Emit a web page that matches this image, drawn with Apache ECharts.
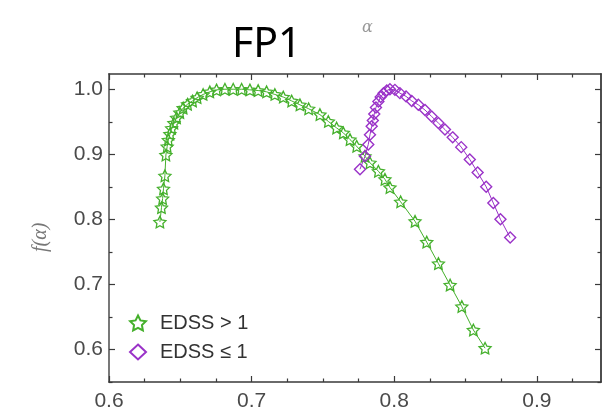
<!DOCTYPE html>
<html>
<head>
<meta charset="utf-8">
<script src="https://cdn.jsdelivr.net/npm/echarts@6/dist/echarts.min.js"></script>
<style>
html,body{margin:0;padding:0;background:#fff;}
#chart{width:607px;height:412px;}
</style>
</head>
<body>
<div id="chart"></div>
<script>
// ---- data ----
var seriesNames = ['EDSS > 1', 'EDSS \u2264 1'];
var edssHigh = [
  [0.6357,0.796],[0.6368,0.818],[0.6376,0.832],[0.6382,0.847],[0.6392,0.867],
  [0.6399,0.899],[0.6408,0.912],[0.6416,0.922],[0.6427,0.931],[0.6439,0.940],
  [0.6455,0.948],[0.6474,0.956],[0.6497,0.964],[0.6520,0.971],[0.6551,0.977],
  [0.6586,0.982],[0.6618,0.987],[0.6660,0.992],[0.6707,0.996],[0.6754,0.999],
  [0.6813,1.000],[0.6871,1.000],[0.6930,1.000],[0.6988,0.999],[0.7046,0.998],
  [0.7105,0.996],[0.7163,0.992],[0.7222,0.988],[0.7281,0.982],[0.7339,0.976],
  [0.7400,0.970],[0.7479,0.961],[0.7538,0.9505],[0.7596,0.9405],[0.7643,0.933],
  [0.7690,0.9226],[0.7737,0.9124],[0.7795,0.897],[0.7830,0.887],[0.7889,0.874],
  [0.7935,0.8615],[0.7970,0.849],[0.8045,0.827],[0.8146,0.797],[0.8228,0.765],
  [0.8310,0.732],[0.8392,0.699],[0.8474,0.666],[0.8555,0.630],[0.8637,0.602]
];
var edssLow = [
  [0.7760,0.877],[0.7795,0.897],[0.7818,0.915],[0.7830,0.930],[0.7842,0.943],
  [0.7850,0.952],[0.7860,0.962],[0.7872,0.972],[0.7889,0.981],[0.7905,0.988],
  [0.7925,0.994],[0.7948,0.998],[0.7970,1.000],[0.8005,0.999],[0.8040,0.994],
  [0.8083,0.989],[0.8123,0.982],[0.8169,0.976],[0.8216,0.968],[0.8263,0.958],
  [0.8310,0.948],[0.8356,0.938],[0.8410,0.926],[0.8470,0.911],[0.8530,0.892],
  [0.8585,0.872],[0.8645,0.850],[0.8695,0.825],[0.8745,0.800],[0.8813,0.772]
];
var xMajorTicks = [0.6, 0.7, 0.8, 0.9];
var xMinorTicks = [0.625, 0.65, 0.675, 0.725, 0.75, 0.775, 0.825, 0.85, 0.875, 0.925];
var yMajorTicks = [0.6, 0.7, 0.8, 0.9, 1.0];
var yMinorTicks = [0.55, 0.65, 0.75, 0.85, 0.95];
var xRange = [0.6, 0.945];
var yRange = [0.55, 1.0234];
var titleText = 'FP1';
var xAxisTitle = '\u03b1';
var yAxisTitle = 'f(\u03b1)';

// ---- styling ----
var green = '#45b02c';
var purple = '#9a32c8';
var starPath = 'path://M50,0 L79.4,59.5 L145.1,69.1 L97.6,115.5 L108.8,180.9 L50,150 L-8.8,180.9 L2.4,115.5 L-45.1,69.1 L20.6,59.5 Z';
var frameColor = '#3a3a3a';

function xAx(pos, ticks, len, showLine, showLabel) {
  return {
    type: 'value', position: pos, min: xRange[0], max: xRange[1], gridIndex: 0,
    axisLine: {show: showLine, onZero: false, lineStyle: {color: frameColor, width: 1.5}},
    axisTick: {show: true, inside: true, length: len, customValues: ticks, lineStyle: {color: frameColor, width: 1.2}},
    axisLabel: {show: showLabel, customValues: ticks, margin: 9, color: '#4a4a4a', fontSize: 21,
      fontFamily: 'Liberation Sans', formatter: function (v) { return v.toFixed(1); }},
    splitLine: {show: false}
  };
}
function yAx(pos, ticks, len, showLine, showLabel, lineColor) {
  return {
    type: 'value', position: pos, min: yRange[0], max: yRange[1], gridIndex: 0,
    axisLine: {show: showLine, onZero: false, lineStyle: {color: lineColor || frameColor, width: 1.8}},
    axisTick: {show: true, inside: true, length: len, customValues: ticks, lineStyle: {color: frameColor, width: 1.2}},
    axisLabel: {show: showLabel, customValues: ticks, margin: 6, color: '#4a4a4a', fontSize: 21,
      fontFamily: 'Liberation Sans', formatter: function (v) { return v.toFixed(1); }},
    splitLine: {show: false}
  };
}

var chart = echarts.init(document.getElementById('chart'), null, {renderer: 'canvas'});
chart.setOption({
  backgroundColor: '#fff',
  animation: false,
  grid: {left: 109, right: 6, top: 74, bottom: 30, containLabel: false},
  xAxis: [
    xAx('bottom', xMajorTicks, 6, true, true),
    xAx('bottom', xMinorTicks, 3.5, false, false),
    xAx('top', xMajorTicks, 6, true, false),
    xAx('top', xMinorTicks, 3.5, false, false)
  ],
  yAxis: [
    yAx('left', yMajorTicks, 6, true, true, '#6a6a6a'),
    yAx('left', yMinorTicks, 3.5, false, false),
    yAx('right', yMajorTicks, 6, true, false),
    yAx('right', yMinorTicks, 3.5, false, false)
  ],
  legend: {
    orient: 'vertical', left: 124, top: 308, itemWidth: 16, itemHeight: 15, itemGap: 9,
    textStyle: {fontSize: 20, color: '#333', fontFamily: 'Liberation Sans', padding: [0, 0, 0, 9]},
    data: [
      {name: seriesNames[0], icon: starPath},
      {name: seriesNames[1], icon: 'diamond'}
    ]
  },
  series: [
    {
      name: seriesNames[0], type: 'line', xAxisIndex: 0, yAxisIndex: 0,
      data: edssHigh, symbol: starPath, symbolSize: [12, 11.5],
      lineStyle: {color: green, width: 1},
      itemStyle: {color: 'rgba(255,255,255,0)', borderColor: green, borderWidth: 1.3},
      z: 3
    },
    {
      name: seriesNames[1], type: 'line', xAxisIndex: 0, yAxisIndex: 0,
      data: edssLow, symbol: 'diamond', symbolSize: [11, 11],
      lineStyle: {color: purple, width: 1},
      itemStyle: {color: 'rgba(255,255,255,0)', borderColor: purple, borderWidth: 1.4},
      z: 4
    }
  ],
  graphic: [
    {type: 'text', left: 232, top: 25, style: {text: titleText, font: '41px "Noto Sans"', fill: '#000'}},
    {type: 'text', left: 362, top: 20, style: {text: xAxisTitle, font: 'italic 16px "DejaVu Serif"', fill: '#999'}},
    {type: 'text', x: 31, y: 252, rotation: Math.PI / 2,
      style: {text: yAxisTitle, font: 'italic 20px "Liberation Serif"', fill: '#777'}}
  ]
});
</script>
</body>
</html>
